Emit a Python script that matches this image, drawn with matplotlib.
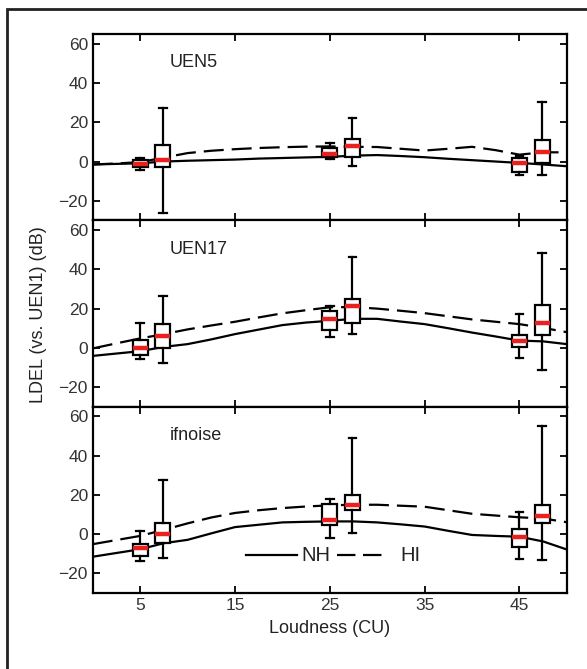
import numpy as np
import matplotlib.pyplot as plt
from matplotlib.patches import Rectangle

plt.rcParams['font.family'] = ['Liberation Sans', 'DejaVu Sans']

# Loudness positions of the boxes (NH at the level, HI shifted right)
levels = [5, 25, 45]
hi_offset = 2.4

panels = ['UEN5', 'UEN17', 'ifnoise']

# box stats per panel: [whislo, q1, med, q3, whishi] at 5, 25, 45 CU
nh_boxes = {
    'UEN5':    [[-4.3, -2.9, -1.2, 0.9, 1.9], [1.4, 2.2, 3.9, 7.0, 9.4], [-6.7, -5.2, -0.9, 1.7, 2.6]],
    'UEN17':   [[-5.5, -3.8, 0.0, 3.9, 12.5], [5.6, 9.1, 14.7, 18.8, 21.5], [-5.2, 0.4, 3.7, 6.3, 17.1]],
    'ifnoise': [[-13.7, -11.1, -7.2, -5.1, 1.7], [-2.0, 4.8, 7.0, 15.6, 17.9], [-12.9, -6.5, -1.3, 2.8, 11.2]],
}
hi_boxes = {
    'UEN5':    [[-26.3, -2.9, 0.8, 8.2, 27.2], [-2.2, 2.2, 7.7, 11.6, 22.4], [-7.1, -0.9, 4.7, 11.0, 30.6]],
    'UEN17':   [[-7.7, -0.3, 5.8, 12.0, 26.2], [7.0, 12.8, 21.4, 24.8, 46.3], [-11.5, 6.3, 12.5, 22.0, 48.4]],
    'ifnoise': [[-12.3, -4.3, 0.2, 5.6, 27.5], [0.5, 12.1, 15.0, 20.2, 48.9], [-13.4, 5.8, 9.3, 14.9, 55.0]],
}

# group mean curves
curve_x = [0, 2.5, 5, 7.5, 10, 12.5, 15, 17.5, 20, 22.5, 25, 27.5, 30, 32.5, 35, 37.5, 40, 42.5, 45, 47.5, 50]
nh_curve = {
    'UEN5':    [-1.5, -1.2, -0.9, 0.0, 0.4, 0.7, 1.0, 1.5, 1.8, 2.1, 2.4, 3.0, 3.3, 2.8, 2.2, 1.4, 0.7, 0.0, -0.7, -1.5, -2.4],
    'UEN17':   [-4.1, -2.9, -1.7, 0.5, 1.9, 4.3, 7.0, 9.3, 11.6, 12.9, 13.8, 14.8, 14.8, 13.4, 12.1, 10.0, 7.8, 5.8, 3.7, 3.3, 1.9],
    'ifnoise': [-11.5, -9.6, -7.7, -4.6, -2.9, 0.4, 3.6, 4.8, 6.0, 6.3, 6.5, 6.5, 6.0, 5.0, 3.9, 1.7, -0.4, -0.9, -1.3, -3.7, -7.8],
}
hi_curve = {
    'UEN5':    [-1.5, -1.0, -0.3, 2.0, 4.3, 5.5, 6.3, 6.9, 7.3, 7.6, 7.7, 7.5, 7.4, 6.5, 5.6, 6.5, 7.5, 5.8, 3.5, 4.7, 4.7],
    'UEN17':   [-0.3, 2.3, 4.8, 7.0, 9.4, 11.4, 13.3, 15.5, 17.6, 19.2, 20.7, 20.8, 20.0, 18.9, 17.7, 16.1, 14.5, 13.3, 12.1, 10.2, 8.0],
    'ifnoise': [-5.1, -3.0, -0.9, 2.2, 5.5, 8.5, 10.8, 12.2, 13.3, 14.1, 14.7, 15.0, 15.0, 14.5, 14.0, 12.2, 10.4, 9.5, 8.6, 8.0, 6.1],
}


def to_stats(rows):
    return [dict(whislo=r[0], q1=r[1], med=r[2], q3=r[3], whishi=r[4], fliers=[]) for r in rows]


fig = plt.figure(figsize=(5.87, 6.69), dpi=100)
left, width = 0.158, 0.8075
bottom, ph = 0.1136, 0.2785
dash = (9, 3.6)

axes = []
for i, name in enumerate(panels):
    ax = fig.add_axes([left, bottom + (2 - i) * ph, width, ph])
    axes.append(ax)

    ax.plot(curve_x, nh_curve[name], color='black', lw=1.6, zorder=2)
    ax.plot(curve_x, hi_curve[name], color='black', lw=1.6, dashes=dash, zorder=2)

    box_kw = dict(widths=1.6, patch_artist=True, showfliers=False, capwidths=0.8, zorder=3,
                  boxprops=dict(facecolor='white', edgecolor='black', linewidth=1.6),
                  medianprops=dict(color='#e8211f', linewidth=3.2, solid_capstyle='butt'),
                  whiskerprops=dict(color='black', linewidth=1.6),
                  capprops=dict(color='black', linewidth=1.6))
    ax.bxp(to_stats(nh_boxes[name]), positions=levels, **box_kw)
    ax.bxp(to_stats(hi_boxes[name]), positions=[p + hi_offset for p in levels], **box_kw)

    ax.set_xlim(0, 50)
    ax.set_ylim(-30, 65)
    ax.set_yticks([-20, 0, 20, 40, 60])
    ax.set_xticks([5, 15, 25, 35, 45])
    ax.tick_params(direction='in', top=True, right=True, length=5, width=1.3,
                   labelsize=12.5, colors='black', labelcolor='#333333')
    for sp in ax.spines.values():
        sp.set_linewidth(1.6)
    if i < 2:
        ax.tick_params(labelbottom=False)
    ax.text(0.162, 0.845, name, transform=ax.transAxes, fontsize=13, va='center', ha='left', color='#222222')

axes[2].set_xticklabels(['5', '15', '25', '35', '45'])
axes[2].set_xlabel('Loudness (CU)', fontsize=13, color='#222222', labelpad=5)
fig.text(0.066, 0.53, 'LDEL (vs. UEN1) (dB)', rotation=90, fontsize=13,
         ha='center', va='center', color='#222222')

# legend drawn as in the figure: solid NH, dashed HI
ax = axes[2]
ax.plot([16.2, 21.5], [-10.7, -10.7], color='black', lw=1.6)
ax.text(22.0, -10.7, 'NH', fontsize=14.5, va='center', ha='left', color='#222222')
ax.plot([25.8, 30.5], [-10.7, -10.7], color='black', lw=1.6, dashes=(8.3, 3.4))
ax.text(32.4, -10.7, 'HI', fontsize=14.5, va='center', ha='left', color='#222222')

# outer frame
fig.patches.append(Rectangle((7 / 587, -0.05), 1.1, 1 - 9 / 669 + 0.05, transform=fig.transFigure,
                             fill=False, lw=2, edgecolor='#222222'))

fig.savefig('out.png', dpi=100)
